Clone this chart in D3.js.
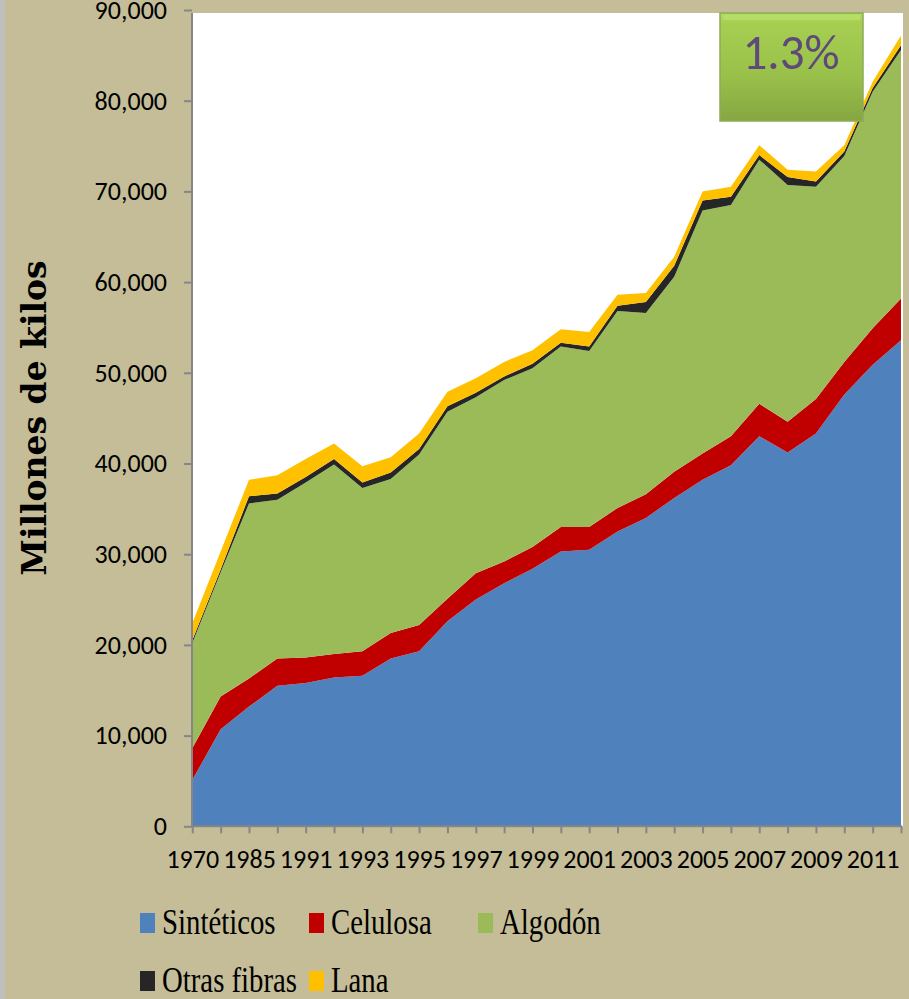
<!DOCTYPE html>
<html>
<head>
<meta charset="utf-8">
<script src="https://cdn.jsdelivr.net/npm/d3@7"></script>
<style>
  body { margin: 0; background: #c4bd97; }
  svg { display: block; }
</style>
</head>
<body>
<div id="chart"></div>
<script>
// categories (years)
var years = ["1970","1980","1985","1990","1991","1992","1993","1994","1995","1996","1997","1998","1999",
             "2000","2001","2002","2003","2004","2005","2006","2007","2008","2009","2010","2011","2012"];

// millones de kilos, per fibre
var sinteticos = [5100,10700,13200,15500,15800,16400,16600,18500,19300,22600,25000,26800,28400,
                  30300,30500,32500,34000,36200,38200,39800,43000,41200,43300,47600,50900,53600];
var celulosa   = [3500,3600,3100,3000,2800,2600,2700,2800,2900,2500,2900,2400,2400,
                  2700,2500,2600,2600,2900,2900,3200,3600,3400,3800,3600,4000,4600];
var algodon    = [11600,13700,19300,17500,19300,20900,18000,17000,18800,20600,19400,20000,19700,
                  19900,19400,21700,20000,21500,26800,25500,26900,26100,23400,22700,26100,27400];
var otras      = [300,300,800,700,600,600,600,700,600,600,500,400,500,
                  400,500,600,1200,1200,1100,900,500,900,600,500,400,500];
var lana       = [1900,2000,1800,2000,2000,1700,1800,1700,1700,1600,1600,1600,1500,
                  1500,1600,1200,1000,1000,1000,1100,1100,800,1100,700,700,1100];

var seriesNames = ["Sintéticos", "Celulosa", "Algodón", "Otras fibras", "Lana"];
var seriesColors = ["#4f81bd", "#c00000", "#9bbb59", "#262626", "#ffc000"];
var yTicks = [0,10000,20000,30000,40000,50000,60000,70000,80000,90000];
var badgeText = "1.3%";

var width = 909, height = 999;
var plotLeft = 192, plotRight = 901, plotTop = 13, plotBottom = 826.3;

var svg = d3.select("#chart")
  .append("svg")
    .attr("width", width)
    .attr("height", height);

svg.append("rect")
  .attr("width", width).attr("height", height)
  .attr("fill", "#c4bd97");
// thin grey strip on the left edge
svg.append("rect")
  .attr("width", 5).attr("height", height)
  .attr("fill", "#bfbfbf");

// plot area
svg.append("rect")
  .attr("x", plotLeft).attr("y", plotTop)
  .attr("width", plotRight - plotLeft + 2).attr("height", plotBottom - plotTop)
  .attr("fill", "#ffffff");

var x = d3.scalePoint()
  .domain(years)
  .range([plotLeft + 0.3, plotRight]);

var y = d3.scaleLinear()
  .domain([0, 90000])
  .range([plotBottom, 10]);

// build table for the stack
var table = years.map(function(yr, i) {
  return {
    year: yr,
    "Sintéticos": sinteticos[i],
    "Celulosa": celulosa[i],
    "Algodón": algodon[i],
    "Otras fibras": otras[i],
    "Lana": lana[i]
  };
});

var stacked = d3.stack().keys(seriesNames)(table);

var area = d3.area()
  .x(function(d) { return x(d.data.year); })
  .y0(function(d) { return y(d[0]); })
  .y1(function(d) { return y(d[1]); });

svg.append("g")
  .selectAll("path")
  .data(stacked)
  .enter()
  .append("path")
    .attr("fill", function(d, i) { return seriesColors[i]; })
    .attr("d", area);

// axes
var axisColor = "#868686";
var tickFont = "Carlito, Lato, sans-serif";

var xAxis = svg.append("g")
  .attr("transform", "translate(0," + plotBottom + ")")
  .call(d3.axisBottom(x)
    .tickSize(7)
    .tickSizeOuter(0)
    .tickPadding(16)
    .tickFormat(function(d, i) { return i % 2 === 0 ? d : ""; }));
xAxis.select(".domain").attr("stroke", axisColor).attr("stroke-width", 2)
  .attr("d", "M" + plotLeft + ",0H" + (plotRight + 1));
xAxis.selectAll(".tick line").attr("stroke", axisColor).attr("stroke-width", 2);
xAxis.selectAll(".tick text")
  .style("font-family", tickFont).style("font-size", "26px").attr("fill", "#000");

var yAxis = svg.append("g")
  .attr("transform", "translate(" + plotLeft + ",0)")
  .call(d3.axisLeft(y)
    .tickValues(yTicks)
    .tickSize(8)
    .tickSizeOuter(0)
    .tickPadding(17)
    .tickFormat(d3.format(",")));
yAxis.select(".domain").attr("stroke", axisColor).attr("stroke-width", 2)
  .attr("d", "M0," + (plotBottom + 1) + "V" + plotTop);
yAxis.selectAll(".tick line").attr("stroke", axisColor).attr("stroke-width", 2);
yAxis.selectAll(".tick text")
  .style("font-family", tickFont).style("font-size", "26px").attr("fill", "#000");

// y axis title
svg.append("text")
  .attr("transform", "translate(46,418) rotate(-90)")
  .style("text-anchor", "middle")
  .style("font-family", "'DejaVu Serif', serif")
  .style("font-weight", "bold")
  .style("font-size", "33px")
  .attr("fill", "#000")
  .text("Millones de kilos");

// badge
var defs = svg.append("defs");
var grad = defs.append("linearGradient")
  .attr("id", "badgeGrad")
  .attr("x1", 0).attr("y1", 0).attr("x2", 0).attr("y2", 1);
grad.append("stop").attr("offset", "0%").attr("stop-color", "#b2dc5e");
grad.append("stop").attr("offset", "10%").attr("stop-color", "#a5ce51");
grad.append("stop").attr("offset", "55%").attr("stop-color", "#9ac24b");
grad.append("stop").attr("offset", "100%").attr("stop-color", "#86a641");

var badge = svg.append("g").attr("transform", "translate(720,13)");
badge.append("rect")
  .attr("width", 143).attr("height", 108)
  .attr("fill", "url(#badgeGrad)")
  .attr("stroke", "#8fa95a").attr("stroke-width", 1.5);
badge.append("rect")
  .attr("x", 3).attr("y", 2).attr("width", 137).attr("height", 5)
  .attr("fill", "#bfe474").attr("opacity", 0.5);
badge.append("text")
  .attr("x", 71).attr("y", 56)
  .style("text-anchor", "middle")
  .style("font-family", "Carlito, Lato, sans-serif")
  .style("font-weight", 300)
  .style("font-size", "49px")
  .attr("fill", "#5f497a")
  .text(badgeText);

// legend
var legendCols = [140, 309, 478];
var legendRows = [913, 971];
var legend = svg.append("g")
  .selectAll("g")
  .data(seriesNames)
  .enter()
  .append("g")
    .attr("transform", function(d, i) {
      return "translate(" + legendCols[i % 3] + "," + legendRows[Math.floor(i / 3)] + ")";
    });
legend.append("rect")
  .attr("width", 15).attr("height", 20)
  .attr("fill", function(d, i) { return seriesColors[i]; });
legend.append("text")
  .attr("transform", "translate(22,20.5) scale(0.8,1)")
  .style("font-family", "'Liberation Serif', serif")
  .style("font-size", "36px")
  .attr("fill", "#000")
  .text(function(d) { return d; });
</script>
</body>
</html>
